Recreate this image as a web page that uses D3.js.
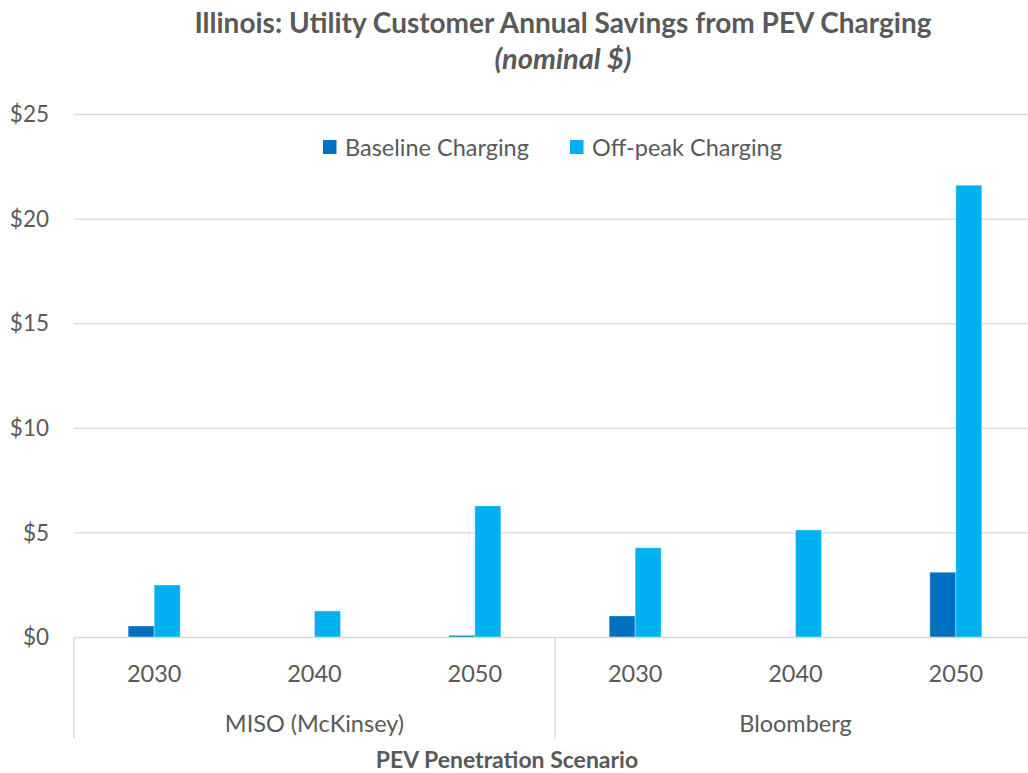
<!DOCTYPE html>
<html lang="en">
<head>
    <meta charset="UTF-8">
    <title>Illinois PEV savings</title>
    <script src="https://d3js.org/d3.v7.min.js"></script>
    <style>
        body { margin: 0; background: #fff; }
        text { font-family: Lato, "Liberation Sans", sans-serif; fill: #595959; }
    </style>
</head>
<body>
    <div id="chart"></div>

    <script>
        // data
        const groups = ['MISO (McKinsey)', 'Bloomberg'];
        const years = ['2030', '2040', '2050'];
        const seriesNames = ['Baseline Charging', 'Off-peak Charging'];
        const baseline = [0.55, 0, 0.1, 1.03, 0, 3.12];
        const offpeak = [2.51, 1.27, 6.29, 4.29, 5.14, 21.62];
        const yTicks = [0, 5, 10, 15, 20, 25];

        const colors = ['#0070C0', '#00B0F0'];

        const W = 1028, H = 773;
        const margin = {top: 114.5, right: -8, bottom: 135.5, left: 74};
        const width = W - margin.left - margin.right,
            height = H - margin.top - margin.bottom;

        const svg = d3.select('#chart')
            .append('svg')
                .attr('width', W)
                .attr('height', H);

        // categories: every group x year
        const cats = [];
        groups.forEach(g => years.forEach(y => cats.push(g + '|' + y)));
        const rows = cats.map((c, i) => ({cat: c, values: [baseline[i], offpeak[i]]}));

        const x0 = d3.scaleBand().domain(cats).range([0, width]);
        const barW = 26;
        const x1 = d3.scaleBand().domain([0, 1])
            .range([x0.bandwidth() / 2 - barW, x0.bandwidth() / 2 + barW]);
        const y = d3.scaleLinear().domain([0, 25]).range([height, 0]);

        const g = svg.append('g')
            .attr('transform', `translate(${margin.left}, ${margin.top})`);

        // gridlines
        g.append('g')
            .selectAll('line')
            .data(yTicks.filter(d => d > 0))
            .join('line')
            .attr('x1', 0).attr('x2', width)
            .attr('y1', d => y(d)).attr('y2', d => y(d))
            .attr('stroke', '#d9d9d9')
            .attr('stroke-width', 1.3);

        // y axis labels
        const yAxis = g.append('g')
            .call(d3.axisLeft(y).tickValues(yTicks).tickFormat(d => '$' + d).tickSize(0).tickPadding(25));
        yAxis.select('.domain').remove();
        yAxis.selectAll('text')
            .style('font-size', '22.5px')
            .attr('fill', '#595959');

        // bars
        g.append('g')
            .selectAll('g')
            .data(rows)
            .join('g')
                .attr('transform', d => `translate(${x0(d.cat)}, 0)`)
            .selectAll('rect')
            .data(d => d.values.map((v, i) => ({i, v})))
            .join('rect')
                .attr('x', d => x1(d.i))
                .attr('width', x1.bandwidth())
                .attr('y', d => y(d.v))
                .attr('height', d => height - y(d.v))
                .attr('fill', d => colors[d.i])
                .attr('stroke', d => d.v > 0 ? '#ffffff' : 'none')
                .attr('stroke-opacity', 0.35)
                .attr('stroke-width', 1);

        // category axis: baseline + vertical separators
        const axisG = g.append('g').attr('transform', `translate(0, ${height})`);
        axisG.append('line')
            .attr('x1', 0).attr('x2', width)
            .attr('stroke', '#d9d9d9').attr('stroke-width', 1.6);
        const sepX = [0, x0(cats[3]), width];
        axisG.selectAll('.sep')
            .data(sepX)
            .join('line')
            .attr('class', 'sep')
            .attr('x1', d => d).attr('x2', d => d)
            .attr('y1', 0).attr('y2', 101)
            .attr('stroke', '#d9d9d9').attr('stroke-width', 1.3);

        // year labels
        axisG.selectAll('.yr')
            .data(cats)
            .join('text')
            .attr('class', 'yr')
            .attr('x', d => x0(d) + x0.bandwidth() / 2)
            .attr('y', 44)
            .attr('text-anchor', 'middle')
            .style('font-size', '23.5px')
            .text(d => d.split('|')[1]);

        // group labels
        axisG.selectAll('.grp')
            .data(groups)
            .join('text')
            .attr('class', 'grp')
            .attr('x', (d, i) => x0(cats[i * 3]) + x0.bandwidth() * 1.5)
            .attr('y', 94)
            .attr('text-anchor', 'middle')
            .style('font-size', '23.5px')
            .text(d => d);

        // axis title
        svg.append('text')
            .attr('x', 507).attr('y', 768)
            .attr('text-anchor', 'middle')
            .style('font-size', '23px')
            .style('font-weight', 'bold')
            .text('PEV Penetration Scenario');

        // title
        svg.append('text')
            .attr('x', 563).attr('y', 33)
            .attr('text-anchor', 'middle')
            .style('font-size', '28px')
            .style('font-weight', 'bold')
            .text('Illinois: Utility Customer Annual Savings from PEV Charging');
        svg.append('text')
            .attr('x', 563).attr('y', 69)
            .attr('text-anchor', 'middle')
            .style('font-size', '29px')
            .style('font-weight', 'bold')
            .style('font-style', 'italic')
            .text('(nominal $)');

        // legend
        const legX = [323, 570];
        const leg = svg.append('g')
            .selectAll('g')
            .data(seriesNames)
            .join('g')
            .attr('transform', (d, i) => `translate(${legX[i]}, 147)`);
        leg.append('rect')
            .attr('x', 0).attr('y', -7)
            .attr('width', 13.5).attr('height', 14)
            .attr('fill', (d, i) => colors[i]);
        leg.append('text')
            .attr('x', 22).attr('y', 8.5)
            .style('font-size', '23.5px')
            .text(d => d);
    </script>
</body>
</html>
